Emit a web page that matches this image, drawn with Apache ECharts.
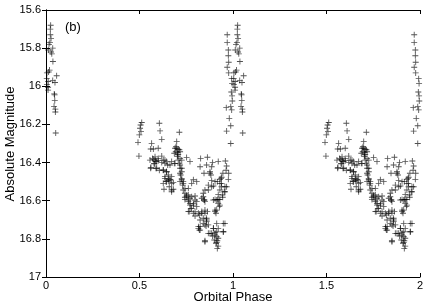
<!DOCTYPE html>
<html><head><meta charset="utf-8">
<script src="https://cdn.jsdelivr.net/npm/echarts@6/dist/echarts.min.js"></script>
<style>html,body{margin:0;padding:0;background:#fff}#c{width:436px;height:305px}</style>
</head><body><div id="c"></div>
<script>
// Phase-folded light curve (phase 0..1), plotted over two cycles
const phase = [
  0.025,0.023,0.023,0.027,0.021,0.016,0.036,0.012,0.027,0.031,0.037,0.019,0.014,0.005,0.057,0.004,0.036,0.048,0.012,0.005,0.011,0.011,0.044,0.046,0.047,0.043,0.050,0.050,0.052,
  0.969,0.969,0.975,0.977,0.969,0.977,0.995,0.991,0.995,0.996,0.988,0.964,0.993,0.980,0.988,0.966,0.988,0.993,0.975,
  0.512,0.506,0.503,0.508,0.499,0.492,0.497,0.606,0.610,0.619,0.713,0.565,0.560,0.574,0.600,0.699,0.695,0.707,0.704,0.717,
  0.752,0.827,0.863,0.891,0.959,0.966,0.977,0.963,0.570,0.583,0.592,0.578,0.556,0.600,0.619,0.627,0.636,0.645,0.560,0.588,
  0.606,0.627,0.645,0.663,0.672,0.690,0.717,0.726,0.720,0.636,0.654,0.663,0.642,0.627,0.672,0.659,0.681,0.631,0.672,0.726,
  0.731,0.743,0.734,0.788,0.806,0.779,0.824,0.845,0.877,0.886,0.868,0.895,0.916,0.930,0.939,0.957,0.930,0.953,0.921,0.752,
  0.770,0.743,0.761,0.797,0.833,0.845,0.850,0.904,0.918,0.930,0.945,0.927,0.921,0.770,0.788,0.806,0.779,0.766,0.797,0.820,
  0.833,0.850,0.863,0.841,0.859,0.868,0.856,0.824,0.815,0.820,0.904,0.909,0.913,0.948,0.921,0.895,0.877,0.904,0.948,0.913,
  0.891,0.850,0.916,0.909,0.921,0.916,0.699,0.713,0.707,0.694,0.702,0.717,0.726,0.713,0.770,
  0.654,0.681,0.672,0.734,0.761,0.743,0.752,0.761,0.779,0.797,0.743,0.761,0.770,0.788,0.806,0.775,0.761,0.788,0.815,0.797,
  0.841,0.847,0.833,0.850,0.859,0.824,0.841,0.859,0.815,0.824,0.850,0.868,0.895,0.904,0.913,0.921,0.900,0.913,0.850,0.948,
  0.957,0.886,0.904,0.895,0.913,0.925,0.930,0.913,0.943,0.957,0.939,0.930,0.904,0.886,0.868,0.850,0.841,
  0.574,0.587,0.600,0.579,0.561,0.592,0.619,0.636,0.651,0.627,0.645,0.654,0.636,0.663,0.645,0.672,0.690,0.686,0.704,0.707,
  0.686,0.717,0.726,0.717,0.726,0.717,0.734,0.583,0.886,0.859,0.921,0.939,0.966,0.946,0.877,0.882,0.936,0.975
];
const mag = [
  15.68,15.70,15.73,15.75,15.77,15.78,15.80,15.81,15.82,15.83,15.87,15.915,15.925,15.93,15.945,15.96,15.97,15.98,15.975,15.99,16.005,16.02,16.04,16.045,16.075,16.105,16.12,16.135,16.245,
  15.73,15.77,15.81,15.874,15.90,15.93,15.985,16.03,16.05,16.077,16.107,16.112,16.124,16.168,16.207,16.235,16.30,15.96,15.84,
  16.19,16.203,16.22,16.238,16.255,16.294,16.366,16.194,16.234,16.278,16.241,16.299,16.329,16.329,16.325,16.29,16.317,16.33,16.348,16.343,
  16.374,16.378,16.372,16.399,16.392,16.418,16.456,16.44,16.378,16.387,16.395,16.404,16.387,16.378,16.366,16.387,16.404,16.395,16.43,16.43,
  16.44,16.44,16.448,16.413,16.395,16.404,16.43,16.448,16.465,16.474,16.483,16.49,16.50,16.509,16.509,16.527,16.54,16.54,16.553,16.49,
  16.518,16.535,16.544,16.49,16.50,16.509,16.422,16.456,16.456,16.495,16.518,16.523,16.50,16.488,16.509,16.527,16.544,16.553,16.567,16.571,
  16.587,16.582,16.596,16.596,16.587,16.596,16.605,16.593,16.593,16.593,16.582,16.631,16.614,16.614,16.623,16.631,16.64,16.657,16.657,16.675,
  16.666,16.649,16.657,16.692,16.701,16.727,16.733,16.736,16.745,16.754,16.649,16.666,16.719,16.719,16.745,16.745,16.771,16.768,16.763,16.789,
  16.785,16.81,16.81,16.823,16.838,16.85,16.325,16.333,16.357,16.343,16.369,16.378,16.387,16.404,16.395,
  16.495,16.505,16.544,16.509,16.535,16.561,16.579,16.57,16.579,16.575,16.593,16.605,16.623,16.614,16.605,16.64,16.657,16.666,16.666,16.68,
  16.579,16.596,16.657,16.666,16.692,16.701,16.719,16.71,16.736,16.754,16.727,16.771,16.745,16.78,16.763,16.797,16.806,16.82,16.815,16.763,
  16.719,16.771,16.657,16.596,16.596,16.593,16.623,16.649,16.57,16.553,16.527,16.509,16.50,16.527,16.544,16.544,16.561,
  16.383,16.395,16.39,16.407,16.425,16.43,16.40,16.387,16.413,16.439,16.448,16.465,16.483,16.491,16.50,16.474,16.325,16.351,16.36,16.387,
  16.404,16.413,16.43,16.456,16.483,16.50,16.50,16.37,16.422,16.413,16.395,16.477,16.527,16.456,16.448,16.465,16.483,16.488
];
const xTicks = [0, 0.5, 1, 1.5, 2];
const yTicks = [15.6, 15.8, 16, 16.2, 16.4, 16.6, 16.8, 17];
const cycles = [0, 1];
const xTitle = 'Orbital Phase';
const yTitle = 'Absolute Magnitude';
const panelLabel = '(b)';

const pts = [];
for (const c of cycles) {
  for (let i = 0; i < Math.min(phase.length, mag.length); i++) {
    const x = phase[i] + c;
    if (x >= 0 && x <= 2) pts.push([x, mag[i]]);
  }
}

const FONT = '"Liberation Sans", Arial, Helvetica, sans-serif';
const chart = echarts.init(document.getElementById('c'), null, {renderer: 'canvas'});
const lineStyle = {color: '#000', width: 1};
chart.setOption({
  animation: false,
  backgroundColor: '#fff',
  grid: {left: 46, right: 16, top: 10, bottom: 28, containLabel: false, outerBoundsMode: 'none'},
  xAxis: [{
    type: 'value', position: 'bottom', min: xTicks[0], max: xTicks[xTicks.length - 1], interval: 0.5,
    axisLine: {show: true, lineStyle: lineStyle},
    axisTick: {show: true, inside: true, length: 4, lineStyle: lineStyle},
    axisLabel: {fontFamily: FONT, fontSize: 11, color: '#000', margin: 3,
      formatter: v => String(v)},
    splitLine: {show: false}
  }, {
    type: 'value', position: 'top', min: xTicks[0], max: xTicks[xTicks.length - 1], interval: 0.5,
    axisLine: {show: true, lineStyle: lineStyle},
    axisTick: {show: true, inside: true, length: 4, lineStyle: lineStyle},
    axisLabel: {show: false}, splitLine: {show: false}
  }],
  yAxis: [{
    type: 'value', position: 'left', inverse: true, min: yTicks[0], max: yTicks[yTicks.length - 1], interval: 0.2,
    axisLine: {show: true, lineStyle: lineStyle},
    axisTick: {show: true, inside: true, length: 4, lineStyle: lineStyle},
    axisLabel: {fontFamily: FONT, fontSize: 11, color: '#000', margin: 5,
      formatter: v => String(Math.round(v * 10) / 10)},
    splitLine: {show: false}
  }, {
    type: 'value', position: 'right', inverse: true, min: yTicks[0], max: yTicks[yTicks.length - 1], interval: 0.2,
    axisLine: {show: true, lineStyle: lineStyle},
    axisTick: {show: true, inside: true, length: 4, lineStyle: lineStyle},
    axisLabel: {show: false}, splitLine: {show: false}
  }],
  graphic: [{
    type: 'text', left: 65, top: 21,
    style: {text: panelLabel, font: '13px ' + FONT, fill: '#000'}
  }, {
    type: 'text', x: 233, y: 297,
    style: {text: xTitle, font: '13px ' + FONT, fill: '#000', align: 'center', verticalAlign: 'middle'}
  }, {
    type: 'text', x: 10, y: 144, rotation: Math.PI / 2,
    style: {text: yTitle, font: '13px ' + FONT, fill: '#000', align: 'center', verticalAlign: 'middle'}
  }],
  series: [{
    type: 'scatter', xAxisIndex: 0, yAxisIndex: 0,
    data: pts,
    symbol: 'path://M0,3h7v1h-7z M3,0h1v7h-1z',
    symbolSize: 6,
    itemStyle: {color: 'rgba(0,0,0,0.85)'},
    clip: true
  }]
});
</script>
</body></html>
